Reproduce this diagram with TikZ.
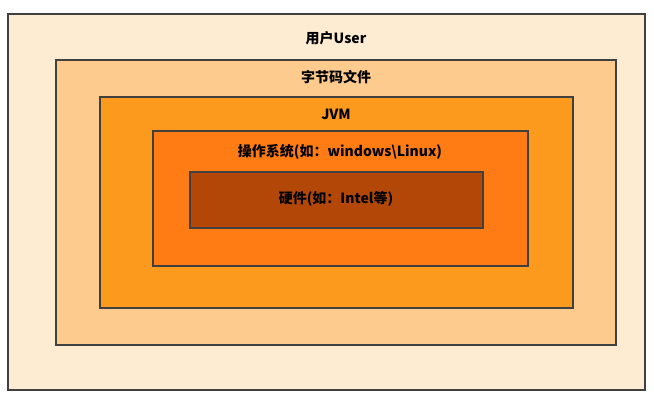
\documentclass[tikz,border=0pt]{standalone}
\usepackage{fontspec}
\newfontfamily\cjk{Noto Sans CJK SC}
\definecolor{layerA}{HTML}{FDEBD2}
\definecolor{layerB}{HTML}{FDCB8E}
\definecolor{layerC}{HTML}{FB9A1C}
\definecolor{layerD}{HTML}{FF7B14}
\definecolor{layerE}{HTML}{B24708}
\tikzset{
  layer/.style={draw=black!75, line width=1.2pt},
  lbl/.style={font=\cjk\bfseries\fontsize{14}{16}\selectfont, inner sep=0pt}
}
\begin{document}
\begin{tikzpicture}[x=1pt,y=-1pt]
\useasboundingbox (0,0) rectangle (654,407);

%% layers
\draw[layer, fill=layerA] (8,14) rectangle (645,390);     %% user
\draw[layer, fill=layerB] (56,60) rectangle (616,345);    %% bytecode
\draw[layer, fill=layerC] (100,97) rectangle (573,308);   %% jvm
\draw[layer, fill=layerD] (153,131) rectangle (528,266);  %% os
\draw[layer, fill=layerE] (190,172) rectangle (483,228);  %% hardware

%% layer labels
\node[lbl] (user) at (336,38) {用户User};
\node[lbl] (bytecode) at (336,77) {字节码文件};
\node[lbl] (jvm) at (336,114) {JVM};
\node[lbl] (os) at (340,152) {操作系统(如：windows\textbackslash Linux)};
\node[lbl] (hw) at (336,199) {硬件(如：Intel等)};
\end{tikzpicture}
\end{document}
